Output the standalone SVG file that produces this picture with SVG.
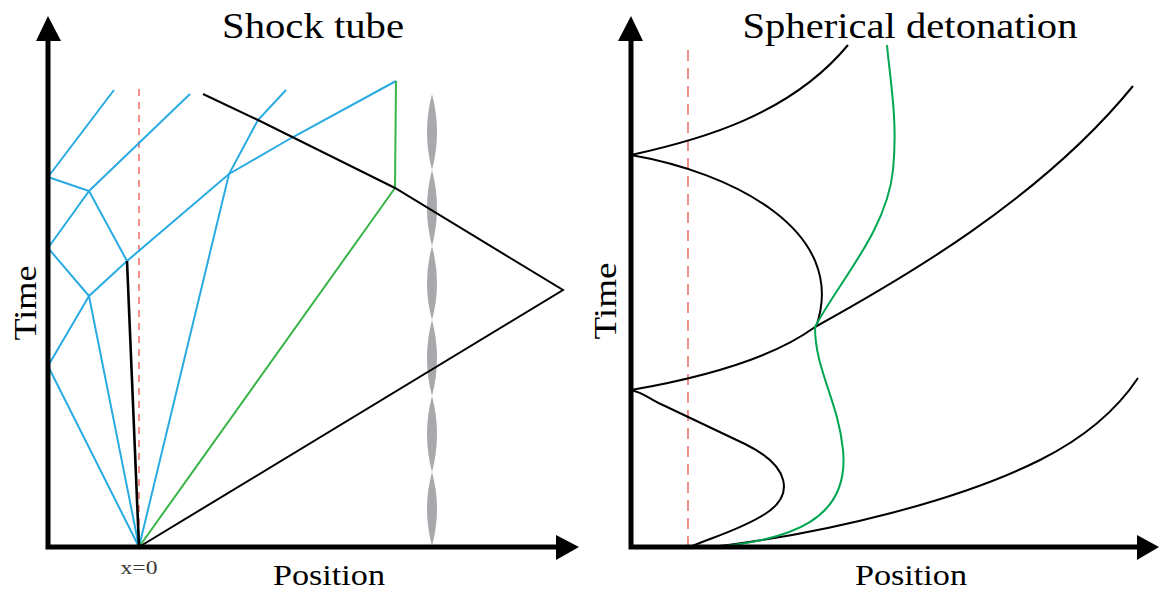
<svg xmlns="http://www.w3.org/2000/svg" width="1160" height="591" viewBox="0 0 1160 591">
<style>
.axis{stroke:#000;stroke-width:5;fill:none}
.head{fill:#000}
.blue{stroke:#29ABE2;stroke-width:2;fill:none;stroke-linejoin:miter}
.green{stroke:#39B54A;stroke-width:2;fill:none}
.green2{stroke:#00A651;stroke-width:2;fill:none}
.blk{stroke:#000;stroke-width:2;fill:none}
.red{stroke:#E8564C;stroke-width:1.3;fill:none}
.lens{fill:#A7A9AC}
.lbl{fill:#000}
</style>
<rect width="1160" height="591" fill="#fff"/>

<g id="left-panel">
  <g id="left-dashed">
    <line class="red" x1="139" y1="89" x2="139" y2="547" stroke-dasharray="7,6"/>
  </g>
  <g id="left-lenses">
    <path class="lens" d="M432,94 Q442,132 432,170 Q422,132 432,94Z"/>
    <path class="lens" d="M432,170 Q442,208 432,246 Q422,208 432,170Z"/>
    <path class="lens" d="M432,246 Q442,283 432,320 Q422,283 432,246Z"/>
    <path class="lens" d="M432,320 Q442,358 432,396 Q422,358 432,320Z"/>
    <path class="lens" d="M432,396 Q442,434 432,472 Q422,434 432,396Z"/>
    <path class="lens" d="M432,472 Q442,509 432,546 Q422,509 432,472Z"/>
  </g>
  <g id="left-connectors">
    <polyline class="blue" points="48,177 114,90"/>
    <polyline class="blue" points="48,177 89,191 48,248"/>
    <polyline class="blue" points="89,191 190,94"/>
    <polyline class="blue" points="89,191 127,261"/>
    <polyline class="blue" points="48,248 89,296 127,261 229,174 293,137 396,81"/>
    <polyline class="blue" points="48,366 89,296 139,547 48,366"/>
    <polyline class="blue" points="139,547 229,174 258,120 286,90"/>
    <polyline class="green" points="139,547 395,188 396,81"/>
    <polyline class="blk" points="203,94 258,120 395,188 563,290 139,547"/>
    <polyline class="blk" points="127,261 139,547" style="stroke-width:2.6"/>
  </g>
  <g id="left-axes">
    <polyline class="axis" points="48,41 48,547 557,547"/>
    <polygon class="head" points="48,16 36,41 61,41"/>
    <polygon class="head" points="579,547 556,535 556,560"/>
  </g>
  <g id="left-labels" font-family="'Liberation Serif', 'DejaVu Serif', serif">
    <text class="lbl" x="313" y="38" font-size="36" text-anchor="middle" textLength="182" lengthAdjust="spacingAndGlyphs">Shock tube</text>
    <text class="lbl" x="329" y="585" font-size="29" text-anchor="middle" textLength="112" lengthAdjust="spacingAndGlyphs">Position</text>
    <text class="lbl" transform="translate(36,303) rotate(-90)" font-size="31" text-anchor="middle" textLength="75" lengthAdjust="spacingAndGlyphs">Time</text>
    <text x="139" y="574" font-size="18" text-anchor="middle" fill="#3a3a3a" textLength="37" lengthAdjust="spacingAndGlyphs">x=0</text>
  </g>
</g>

<g id="right-panel">
  <g id="right-dashed">
    <line class="red" x1="688" y1="50" x2="688" y2="547" stroke-dasharray="11,7"/>
  </g>
  <g id="right-connectors">
    <path class="blk" d="M631,155 C700,140 790,115 848,45"/>
    <path class="blk" d="M631,155 C730,172 850,230 816,327"/>
    <path class="blk" d="M631,390 C700,378 770,360 815,327 C900,280 1040,200 1133,86"/>
    <path class="blk" d="M631,390 C645,393 650,400 665,406 L745,444 C790,466 795,495 765,514 C740,530 710,538 690,547"/>
    <path class="blk" d="M712,547 C830,533 960,500 1040,460 C1090,435 1120,405 1138,378"/>
    <path class="green2" d="M715,547 C790,540 850,520 843,450 C838,400 815,370 815,327 C840,280 887,230 893,170 C898,120 890,80 887,45"/>
  </g>
  <g id="right-axes">
    <polyline class="axis" points="631,41 631,547 1138,547"/>
    <polygon class="head" points="631,16 618,41 643,41"/>
    <polygon class="head" points="1159,547 1137,535 1137,560"/>
  </g>
  <g id="right-labels" font-family="'Liberation Serif', 'DejaVu Serif', serif">
    <text class="lbl" x="910" y="38" font-size="36" text-anchor="middle" textLength="335" lengthAdjust="spacingAndGlyphs">Spherical detonation</text>
    <text class="lbl" x="911" y="585" font-size="29" text-anchor="middle" textLength="112" lengthAdjust="spacingAndGlyphs">Position</text>
    <text class="lbl" transform="translate(616,301) rotate(-90)" font-size="31" text-anchor="middle" textLength="77" lengthAdjust="spacingAndGlyphs">Time</text>
  </g>
</g>
</svg>
